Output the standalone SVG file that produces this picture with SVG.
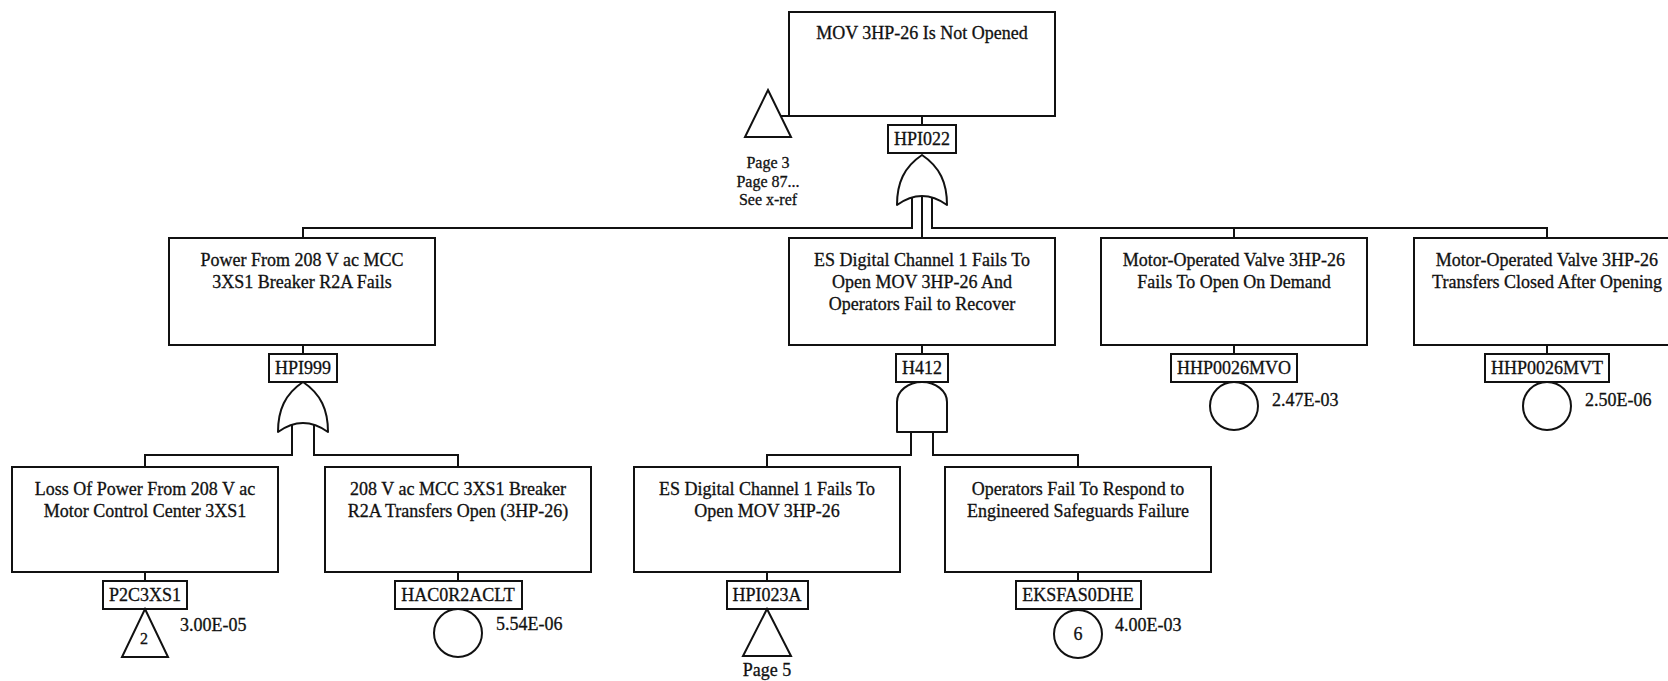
<svg xmlns="http://www.w3.org/2000/svg" width="1668" height="681" viewBox="0 0 1668 681">
  <style>
    .box { fill: #fff; stroke: #111; stroke-width: 2; }
    .lbl { fill: #fff; stroke: #111; stroke-width: 2; }
    .gate { fill: #fff; stroke: #111; stroke-width: 2; stroke-linejoin: round; }
    .evt { fill: #fff; stroke: #111; stroke-width: 2; }
    .wire { fill: none; stroke: #111; stroke-width: 2; }
    text { font-family: "Liberation Serif", "Times New Roman", serif; fill: #111; stroke: #111; stroke-width: 0.3px; }
    .t { font-size: 18px; text-anchor: middle; }
    .id { font-size: 18px; text-anchor: middle; }
    .p { font-size: 18px; text-anchor: start; }
    .ref { font-size: 16px; text-anchor: middle; }
  </style>
  <defs>
    <!-- OR gate, 50 wide x 50 tall, apex at origin -->
    <path id="orGate" class="gate" d="M-25,50 C-25,28 -18,12 0,0 C18,12 25,28 25,50 Q0,32 -25,50 Z"/>
    <!-- AND gate, 50 wide x 50 tall, top at origin -->
    <path id="andGate" class="gate" d="M-25,50 V20 A25,20 0 0 1 25,20 V50 Z"/>
  </defs>

  <rect width="1668" height="681" fill="#fff"/>

  <!-- connectors -->
  <g id="connectors" class="wire">
    <path d="M922,116 V125"/>
    <path d="M781,116 H789"/>
    <path d="M912,197.4 V228 H303 V238"/>
    <path d="M922,196 V238"/>
    <path d="M932,197.4 V228 H1547 V238"/>
    <path d="M1234,228 V238"/>
    <path d="M303,345 V354"/>
    <path d="M292,424.4 V455 H145 V467"/>
    <path d="M314,424.4 V455 H458 V467"/>
    <path d="M922,345 V354"/>
    <path d="M911,432 V455 H767 V467"/>
    <path d="M933,432 V455 H1078 V467"/>
    <path d="M1234,345 V354"/>
    <path d="M1547,345 V354"/>
    <path d="M145,572 V581"/>
    <path d="M458,572 V581"/>
    <path d="M767,572 V581"/>
    <path d="M1078,572 V581"/>
  </g>

  <!-- top event -->
  <g id="HPI022">
    <rect class="box" x="789" y="12" width="266" height="104"/>
    <text class="t" x="922" y="39">MOV 3HP-26 Is Not Opened</text>
    <rect class="lbl" x="888" y="125" width="68" height="28"/>
    <text class="id" x="922" y="145">HPI022</text>
    <use href="#orGate" x="922" y="155"/>
  </g>

  <!-- transfer-in reference for the top event -->
  <g id="xref-top">
    <path class="evt" d="M768,90 L791,137 L745,137 Z"/>
    <text class="ref" x="768" y="168">Page 3</text>
    <text class="ref" x="768" y="187">Page 87...</text>
    <text class="ref" x="768" y="205">See x-ref</text>
  </g>

  <!-- second level -->
  <g id="HPI999">
    <rect class="box" x="169" y="238" width="266" height="107"/>
    <text class="t" x="302" y="266">Power From 208 V ac MCC</text>
    <text class="t" x="302" y="288">3XS1 Breaker R2A Fails</text>
    <rect class="lbl" x="269" y="354" width="68" height="28"/>
    <text class="id" x="303" y="374">HPI999</text>
    <use href="#orGate" x="303" y="382"/>
  </g>

  <g id="H412">
    <rect class="box" x="789" y="238" width="266" height="107"/>
    <text class="t" x="922" y="266">ES Digital Channel 1 Fails To</text>
    <text class="t" x="922" y="288">Open MOV 3HP-26 And</text>
    <text class="t" x="922" y="310">Operators Fail to Recover</text>
    <rect class="lbl" x="896" y="354" width="52" height="28"/>
    <text class="id" x="922" y="374">H412</text>
    <use href="#andGate" x="922" y="382"/>
  </g>

  <g id="HHP0026MVO">
    <rect class="box" x="1101" y="238" width="266" height="107"/>
    <text class="t" x="1234" y="266">Motor-Operated Valve 3HP-26</text>
    <text class="t" x="1234" y="288">Fails To Open On Demand</text>
    <rect class="lbl" x="1171" y="354" width="126" height="28"/>
    <text class="id" x="1234" y="374">HHP0026MVO</text>
    <circle class="evt" cx="1234" cy="406" r="24"/>
    <text class="p" x="1272" y="406">2.47E-03</text>
  </g>

  <g id="HHP0026MVT">
    <rect class="box" x="1414" y="238" width="266" height="107"/>
    <text class="t" x="1547" y="266">Motor-Operated Valve 3HP-26</text>
    <text class="t" x="1547" y="288">Transfers Closed After Opening</text>
    <rect class="lbl" x="1485" y="354" width="124" height="28"/>
    <text class="id" x="1547" y="374">HHP0026MVT</text>
    <circle class="evt" cx="1547" cy="406" r="24"/>
    <text class="p" x="1585" y="406">2.50E-06</text>
  </g>

  <!-- third level -->
  <g id="P2C3XS1">
    <rect class="box" x="12" y="467" width="266" height="105"/>
    <text class="t" x="145" y="495">Loss Of Power From 208 V ac</text>
    <text class="t" x="145" y="517">Motor Control Center 3XS1</text>
    <rect class="lbl" x="103" y="581" width="84" height="28"/>
    <text class="id" x="145" y="601">P2C3XS1</text>
    <path class="evt" d="M145,609 L168,657 L122,657 Z"/>
    <text class="t" x="144" y="644" style="font-size:16px">2</text>
    <text class="p" x="180" y="631">3.00E-05</text>
  </g>

  <g id="HAC0R2ACLT">
    <rect class="box" x="325" y="467" width="266" height="105"/>
    <text class="t" x="458" y="495">208 V ac MCC 3XS1 Breaker</text>
    <text class="t" x="458" y="517">R2A Transfers Open (3HP-26)</text>
    <rect class="lbl" x="395" y="581" width="127" height="28"/>
    <text class="id" x="458" y="601">HAC0R2ACLT</text>
    <circle class="evt" cx="458" cy="633" r="24"/>
    <text class="p" x="496" y="630">5.54E-06</text>
  </g>

  <g id="HPI023A">
    <rect class="box" x="634" y="467" width="266" height="105"/>
    <text class="t" x="767" y="495">ES Digital Channel 1 Fails To</text>
    <text class="t" x="767" y="517">Open MOV 3HP-26</text>
    <rect class="lbl" x="727" y="581" width="81" height="28"/>
    <text class="id" x="767" y="601">HPI023A</text>
    <path class="evt" d="M767,609 L791,656 L743,656 Z"/>
    <text class="t" x="767" y="676">Page 5</text>
  </g>

  <g id="EKSFAS0DHE">
    <rect class="box" x="945" y="467" width="266" height="105"/>
    <text class="t" x="1078" y="495">Operators Fail To Respond to</text>
    <text class="t" x="1078" y="517">Engineered Safeguards Failure</text>
    <rect class="lbl" x="1016" y="581" width="125" height="28"/>
    <text class="id" x="1078" y="601">EKSFAS0DHE</text>
    <circle class="evt" cx="1078" cy="634" r="24"/>
    <text class="t" x="1078" y="640">6</text>
    <text class="p" x="1115" y="631">4.00E-03</text>
  </g>
</svg>
